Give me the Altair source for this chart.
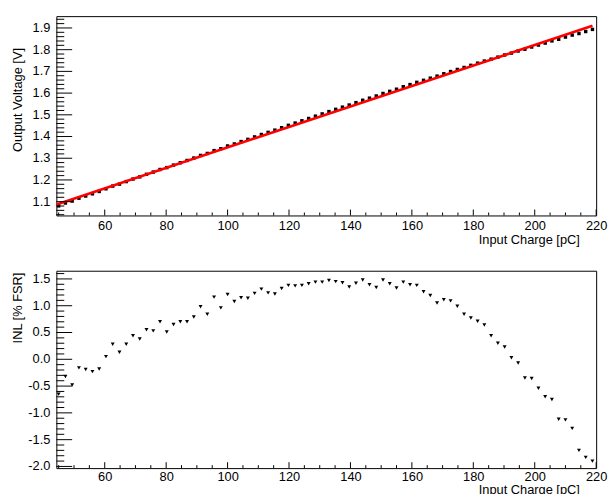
import altair as alt
import pandas as pd

# ---------------- data ----------------
CHARGE = [45.0, 47.2, 49.4, 51.6, 53.8, 56.0, 58.2, 60.4, 62.6, 64.8,
          67.0, 69.2, 71.4, 73.6, 75.8, 78.0, 80.2, 82.4, 84.6, 86.8,
          89.0, 91.2, 93.4, 95.6, 97.8, 100.0, 102.2, 104.4, 106.6, 108.8,
          111.0, 113.2, 115.4, 117.6, 119.8, 122.0, 124.2, 126.4, 128.6, 130.8,
          133.0, 135.2, 137.4, 139.6, 141.8, 144.0, 146.2, 148.4, 150.6, 152.8,
          155.0, 157.2, 159.4, 161.6, 163.8, 166.0, 168.2, 170.4, 172.6, 174.8,
          177.0, 179.2, 181.4, 183.6, 185.8, 188.0, 190.2, 192.4, 194.6, 196.8,
          199.0, 201.2, 203.4, 205.6, 207.8, 210.0, 212.2, 214.4, 216.6, 218.8]

VOLTAGE = [1.0806, 1.0938, 1.1029, 1.1160, 1.1261, 1.1362, 1.1470, 1.1593, 1.1717, 1.1809,
           1.1925, 1.2042, 1.2141, 1.2260, 1.2363, 1.2481, 1.2569, 1.2685, 1.2793, 1.2898,
           1.3009, 1.3129, 1.3221, 1.3352, 1.3440, 1.3565, 1.3658, 1.3768, 1.3871, 1.3983,
           1.4094, 1.4192, 1.4295, 1.4407, 1.4516, 1.4620, 1.4725, 1.4831, 1.4938, 1.5042,
           1.5149, 1.5252, 1.5354, 1.5451, 1.5561, 1.5671, 1.5768, 1.5867, 1.5983, 1.6081,
           1.6180, 1.6293, 1.6393, 1.6496, 1.6590, 1.6688, 1.6782, 1.6891, 1.6993, 1.7089,
           1.7180, 1.7279, 1.7379, 1.7477, 1.7564, 1.7657, 1.7756, 1.7843, 1.7939, 1.8020,
           1.8123, 1.8213, 1.8304, 1.8404, 1.8478, 1.8581, 1.8672, 1.8743, 1.8836, 1.8934]

INL = [-0.65, -0.32, -0.48, -0.16, -0.19, -0.23, -0.18, 0.05, 0.28, 0.13,
       0.28, 0.44, 0.38, 0.55, 0.53, 0.70, 0.51, 0.65, 0.70, 0.70,
       0.79, 0.98, 0.84, 1.16, 0.96, 1.21, 1.08, 1.15, 1.14, 1.23,
       1.31, 1.24, 1.22, 1.32, 1.38, 1.37, 1.38, 1.41, 1.44, 1.44,
       1.47, 1.45, 1.43, 1.35, 1.42, 1.48, 1.39, 1.34, 1.48, 1.41,
       1.33, 1.44, 1.39, 1.38, 1.26, 1.19, 1.05, 1.11, 1.09, 0.99,
       0.84, 0.77, 0.71, 0.64, 0.44, 0.30, 0.23, 0.03, -0.07, -0.35,
       -0.36, -0.54, -0.70, -0.75, -1.12, -1.13, -1.29, -1.70, -1.83, -1.90]

FIT_CHARGE = [44.3, 218.8]
FIT_VOLTAGE = [1.087, 1.910]

# ---------------- axis ticks and labels ----------------
X_MAJOR = [60, 80, 100, 120, 140, 160, 180, 200, 220]
X_MINOR = [45, 50, 55, 65, 70, 75, 85, 90, 95, 105, 110, 115, 125, 130, 135,
           145, 150, 155, 165, 170, 175, 185, 190, 195, 205, 210, 215]
V_MAJOR = [1.1, 1.2, 1.3, 1.4, 1.5, 1.6, 1.7, 1.8, 1.9]
V_LABELS = ["1.1", "1.2", "1.3", "1.4", "1.5", "1.6", "1.7", "1.8", "1.9"]
V_MINOR = [1.04, 1.06, 1.08, 1.12, 1.14, 1.16, 1.18, 1.22, 1.24, 1.26, 1.28,
           1.32, 1.34, 1.36, 1.38, 1.42, 1.44, 1.46, 1.48, 1.52, 1.54, 1.56, 1.58,
           1.62, 1.64, 1.66, 1.68, 1.72, 1.74, 1.76, 1.78, 1.82, 1.84, 1.86, 1.88,
           1.92, 1.94]
I_MAJOR = [-2.0, -1.5, -1.0, -0.5, 0.0, 0.5, 1.0, 1.5]
I_LABELS = ["-2.0", "-1.5", "-1.0", "-0.5", "0.0", "0.5", "1.0", "1.5"]
I_MINOR = [-1.9, -1.8, -1.7, -1.6, -1.4, -1.3, -1.2, -1.1, -0.9, -0.8, -0.7, -0.6,
           -0.4, -0.3, -0.2, -0.1, 0.1, 0.2, 0.3, 0.4, 0.6, 0.7, 0.8, 0.9,
           1.1, 1.2, 1.3, 1.4, 1.6]

X_DOMAIN = [44.25, 220.0]
V_DOMAIN = [1.0364, 1.9545]
I_DOMAIN = [-2.031, 1.653]

W = 547
H1 = 202
H2 = 200
GAP = 56
PAD_LEFT = 49
PAD_TOP = 5
SVG_W = 608
SVG_H = 486
FONT = "Liberation Sans"
FS = 13

xs = alt.Scale(domain=X_DOMAIN, zero=False, nice=False)
vs = alt.Scale(domain=V_DOMAIN, zero=False, nice=False)
iscale = alt.Scale(domain=I_DOMAIN, zero=False, nice=False)

df = pd.DataFrame({"charge": CHARGE, "voltage": VOLTAGE, "inl": INL})
fit_df = pd.DataFrame({"charge": FIT_CHARGE, "voltage": FIT_VOLTAGE})


def x_axis(label_pad, title_y):
    return alt.Axis(values=X_MAJOR, title="Input Charge [pC]", titleX=530, titleY=title_y,
                    titleAlign="right", titleBaseline="top", labelPadding=label_pad,
                    ticks=False, domain=False, grid=False, labelFlush=False,
                    labelOverlap=False, labelBound=False)


def y_axis(title, ty):
    return alt.Axis(title=title, titleX=-35, titleY=ty, titleAngle=270, titleAlign="center",
                    titleBaseline="alphabetic", labels=False, ticks=False,
                    domain=False, grid=False)


def x_ticks(values, length, h):
    d = pd.DataFrame({"charge": values})
    return alt.Chart(d).mark_rule(color="black", strokeWidth=1).encode(
        x=alt.X("charge:Q", scale=xs),
        y=alt.value(h), y2=alt.value(h - length))


def y_ticks(values, length, scale, field):
    d = pd.DataFrame({field: values})
    return alt.Chart(d).mark_rule(color="black", strokeWidth=1).encode(
        y=alt.Y(field + ":Q", scale=scale),
        x=alt.value(0), x2=alt.value(length))


def y_labels(values, labels, scale, field):
    d = pd.DataFrame({field: values, "lab": labels})
    return alt.Chart(d).mark_text(align="right", baseline="middle", font=FONT,
                                  fontSize=FS, color="black").encode(
        y=alt.Y(field + ":Q", scale=scale),
        x=alt.value(-6),
        text="lab:N")


# ---------------- top panel ----------------
top_pts = alt.Chart(df).mark_square(size=12, color="black", opacity=1).encode(
    x=alt.X("charge:Q", scale=xs, axis=x_axis(4, 18)),
    y=alt.Y("voltage:Q", scale=vs, axis=y_axis("Output Voltage [V]", 84.5)),
)
top_fit = alt.Chart(fit_df).mark_line(color="#ff0000", strokeWidth=2.6).encode(
    x=alt.X("charge:Q", scale=xs),
    y=alt.Y("voltage:Q", scale=vs),
)
top = alt.layer(
    top_pts, top_fit,
    x_ticks(X_MAJOR, 6, H1), x_ticks(X_MINOR, 3, H1),
    y_ticks(V_MAJOR, 16, vs, "voltage"), y_ticks(V_MINOR, 8, vs, "voltage"),
    y_labels(V_MAJOR, V_LABELS, vs, "voltage"),
).properties(width=W, height=H1)

# ---------------- bottom panel ----------------
bot_pts = alt.Chart(df).mark_point(shape="triangle-down", filled=True, size=16,
                                   color="black", opacity=1).encode(
    x=alt.X("charge:Q", scale=xs, axis=x_axis(3, 16)),
    y=alt.Y("inl:Q", scale=iscale, axis=y_axis("INL [% FSR]", 37.3)),
)
bottom = alt.layer(
    bot_pts,
    x_ticks(X_MAJOR, 6, H2), x_ticks(X_MINOR, 3, H2),
    y_ticks(I_MAJOR, 16, iscale, "inl"), y_ticks(I_MINOR, 8, iscale, "inl"),
    y_labels(I_MAJOR, I_LABELS, iscale, "inl"),
).properties(width=W, height=H2)

# With autosize "none" the svg is (W x 0) plus padding: make it SVG_W x SVG_H.
chart = alt.vconcat(top, bottom, spacing=GAP, bounds="flush").properties(
    autosize=alt.AutoSizeParams(type="none"),
    padding={"left": PAD_LEFT, "top": PAD_TOP,
             "right": SVG_W - PAD_LEFT - W,
             "bottom": SVG_H - PAD_TOP},
    background="white",
).configure_view(
    stroke="black", strokeWidth=1
).configure_axis(
    labelFont=FONT, titleFont=FONT, labelFontSize=FS, titleFontSize=FS,
    titleFontWeight="normal", labelColor="black", titleColor="black"
)

chart.save("out.html", embed_options={"renderer": "svg", "actions": False})
